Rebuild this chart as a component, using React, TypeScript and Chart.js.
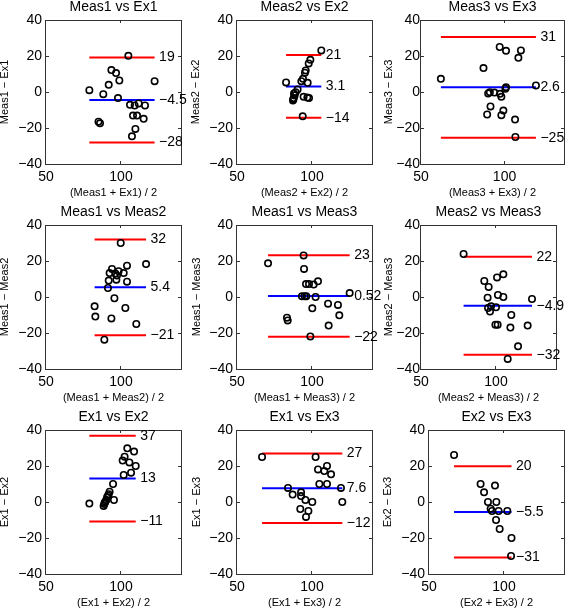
import React, { useEffect, useRef } from 'react';
import { Chart, registerables } from 'chart.js';

Chart.register(...registerables);

const FONT = '"Liberation Sans", Arial, Helvetica, sans-serif';
Chart.defaults.font.family = FONT;
Chart.defaults.color = '#000';

// ---------- text ----------
const panelTitles = ['Meas1 vs Ex1', 'Meas2 vs Ex2', 'Meas3 vs Ex3', 'Meas1 vs Meas2', 'Meas1 vs Meas3', 'Meas2 vs Meas3', 'Ex1 vs Ex2', 'Ex1 vs Ex3', 'Ex2 vs Ex3'];
const xAxisTitles = ['(Meas1 + Ex1) / 2', '(Meas2 + Ex2) / 2', '(Meas3 + Ex3) / 2', '(Meas1 + Meas2) / 2', '(Meas1 + Meas3) / 2', '(Meas2 + Meas3) / 2', '(Ex1 + Ex2) / 2', '(Ex1 + Ex3) / 2', '(Ex2 + Ex3) / 2'];
const yAxisTitles = ['Meas1 \u2212 Ex1', 'Meas2 \u2212 Ex2', 'Meas3 \u2212 Ex3', 'Meas1 \u2212 Meas2', 'Meas1 \u2212 Meas3', 'Meas2 \u2212 Meas3', 'Ex1 \u2212 Ex2', 'Ex1 \u2212 Ex3', 'Ex2 \u2212 Ex3'];

// ---------- ticks / ranges ----------
const xTickValues = [50, 100];
const yTickValues = [-40, -20, 0, 20, 40];
const xMinValues = [50, 50, 50, 50, 50, 50, 50, 50, 50];
const xMaxValues = [140, 140, 135.6, 140, 140, 140, 140, 140, 140];
const yMinValue = -40;
const yMaxValue = 40;

// ---------- data: mean of pair (x) and difference (y) ----------
const meas1Ex1Mean = [78.9, 85.0, 86.0, 88.2, 91.8, 93.6, 96.7, 98.9, 98.0, 104.9, 106.0, 109.1, 111.8, 116.0, 108.0, 110.7, 115.1, 109.6, 107.3, 122.4];
const meas1Ex1Diff = [1.0, -16.5, -17.4, -1.2, 4.0, 12.2, 10.5, 6.4, -3.4, 20.1, -7.1, -7.5, -6.4, -7.5, -13.1, -13.1, -14.9, -20.5, -24.6, 6.0];

const meas2Ex2Mean = [82.7, 90.4, 92.9, 94.0, 95.3, 95.8, 97.8, 98.9, 97.1, 96.9, 94.4, 98.0, 88.4, 87.8, 87.3, 88.0, 89.1, 93.8, 106.2, 87.6];
const meas2Ex2Diff = [5.3, 1.4, 6.0, 7.3, 10.7, 12.0, 15.9, 17.9, 5.1, -3.1, -2.7, -3.4, -1.9, -3.4, -4.7, -0.8, -0.1, -13.5, 23.1, -4.0];

const meas3Ex3Mean = [61.9, 87.4, 97.1, 100.9, 109.8, 108.3, 118.8, 100.9, 100.5, 90.2, 91.2, 93.9, 98.1, 91.6, 89.6, 98.1, 99.3, 106.3, 106.5, 97.3];
const meas3Ex3Diff = [7.3, 13.3, 25.0, 22.9, 23.1, 19.0, 3.6, 2.7, 1.8, -0.8, -0.1, -0.3, -2.7, -8.0, -12.5, -12.9, -10.3, -15.3, -25.0, -1.0];

const meas1Meas2Mean = [99.8, 116.7, 104.0, 94.0, 92.4, 98.4, 96.2, 101.8, 97.3, 96.9, 91.8, 104.0, 91.3, 95.6, 82.4, 82.9, 93.6, 102.9, 110.2, 88.9];
const meas1Meas2Diff = [30.0, 18.3, 17.4, 15.6, 13.3, 14.3, 13.0, 13.3, 11.9, 9.6, 9.1, 8.5, 5.0, -0.7, -5.2, -10.9, -11.9, -6.1, -15.0, -23.7];

const meas1Meas3Mean = [70.7, 94.4, 94.7, 96.0, 98.0, 101.1, 104.0, 93.3, 95.1, 96.2, 102.4, 100.2, 110.7, 117.3, 118.2, 125.1, 83.3, 83.8, 111.1, 98.9];
const meas1Meas3Diff = [18.7, 23.1, 15.6, 7.2, 7.2, 6.9, 8.7, 0.4, 0.4, 0.4, 0.0, -6.3, -3.7, -4.4, -10.2, 2.2, -11.5, -13.0, -15.9, -21.9];

const meas2Meas3Mean = [78.4, 92.2, 95.1, 94.4, 100.7, 104.9, 101.3, 104.9, 124.0, 94.7, 96.7, 96.0, 100.0, 99.6, 101.1, 110.2, 109.6, 121.1, 114.7, 107.8];
const meas2Meas3Diff = [23.9, 8.9, 5.6, -0.4, 10.9, 12.6, 1.1, 0.0, -1.1, -6.1, -5.2, -8.1, -5.7, -15.4, -15.4, -10.0, -17.0, -15.9, -27.4, -34.4];

const ex1Ex2Mean = [78.9, 104.2, 108.7, 102.4, 101.1, 105.6, 109.8, 106.7, 101.8, 94.7, 92.4, 91.8, 95.3, 90.2, 89.6, 88.9, 88.4, 90.7, 91.3, 89.1];
const ex1Ex2Diff = [-0.9, 29.8, 28.0, 25.2, 23.0, 22.0, 20.0, 16.3, 15.0, 10.0, 5.7, 4.3, 1.1, 1.1, 0.2, -1.1, -2.2, 2.6, 3.5, -0.4];

const ex1Ex3Mean = [66.7, 102.4, 104.0, 110.0, 108.2, 112.7, 104.9, 110.0, 119.3, 84.0, 87.1, 92.7, 92.7, 95.6, 100.2, 120.2, 92.2, 97.6, 96.0];
const ex1Ex3Diff = [25.0, 25.0, 18.1, 20.0, 17.2, 15.4, 10.0, 10.0, 7.8, 7.8, 4.1, 5.4, 3.3, 1.1, 0.0, 0.0, -3.9, -5.0, -8.3];

const ex2Ex3Mean = [66.7, 84.4, 86.7, 94.0, 89.3, 94.9, 91.1, 92.0, 96.4, 102.2, 94.7, 97.1, 105.0, 104.7];
const ex2Ex3Diff = [26.1, 10.0, 5.4, 9.1, 0.0, 0.0, -3.7, -5.0, -5.0, -5.0, -10.0, -15.0, -20.0, -30.0];

// ---------- limits of agreement ----------
const upperLimits = [19.1, 20.5, 30.6, 32.0, 23.2, 22.4, 36.8, 26.9, 19.9];
const meanDiffs = [-4.5, 3.1, 2.6, 5.4, 0.52, -4.9, 13.0, 7.6, -5.5];
const lowerLimits = [-28.1, -14.3, -25.4, -21.2, -22.1, -32.1, -10.8, -11.7, -30.9];
const upperLabels = ['19', '21', '31', '32', '23', '22', '37', '27', '20'];
const meanLabels = ['\u22124.5', '3.1', '2.6', '5.4', '0.52', '\u22124.9', '13', '7.6', '\u22125.5'];
const lowerLabels = ['\u221228', '\u221214', '\u221225', '\u221221', '\u221222', '\u221232', '\u221211', '\u221212', '\u221231'];

const meanSeries = [meas1Ex1Mean, meas2Ex2Mean, meas3Ex3Mean, meas1Meas2Mean, meas1Meas3Mean, meas2Meas3Mean, ex1Ex2Mean, ex1Ex3Mean, ex2Ex3Mean];
const diffSeries = [meas1Ex1Diff, meas2Ex2Diff, meas3Ex3Diff, meas1Meas2Diff, meas1Meas3Diff, meas2Meas3Diff, ex1Ex2Diff, ex1Ex3Diff, ex2Ex3Diff];

// ---------- layout (page pixels) ----------
const boxLefts = [46, 237, 421, 46, 237, 421, 46, 237, 429];
const boxRights = [181, 372, 564, 181, 372, 556, 181, 372, 564];
const rowTops = [20, 225, 430];
const boxHeight = 144;
const yTitleOffsets = [41, 41, 32, 41, 40, 32, 41, 40, 41];
const yTickPads = [4, 4, 1, 4, 4, 1, 4, 4, 4];
const PAD_L = 50, PAD_T = 22, PAD_R = 32, PAD_B = 44;

const fmtNum = (v: number) => (v < 0 ? '\u2212' + Math.abs(v) : String(v));

function Panel({ idx }: { idx: number }) {
  const ref = useRef<HTMLCanvasElement>(null);
  const L = boxLefts[idx];
  const R = boxRights[idx];
  const T = rowTops[Math.floor(idx / 3)];
  const cw = R - L + PAD_L + PAD_R;
  const ch = boxHeight + PAD_T + PAD_B;

  useEffect(() => {
    const xs = meanSeries[idx];
    const ys = diffSeries[idx];
    const pts = xs.map((x, i) => ({ x, y: ys[i] }));
    const xLo = Math.min(...xs);
    const xHi = Math.max(...xs);
    const seg = (v: number) => [{ x: xLo, y: v }, { x: xHi, y: v }];
    const lineDs = (v: number, color: string) => ({
      data: seg(v),
      showLine: true,
      borderColor: color,
      borderWidth: 2,
      pointRadius: 0,
      fill: false,
    });

    const decor = {
      id: 'decor',
      afterDraw(chart: any) {
        const { ctx, chartArea: a } = chart;
        const xs_ = chart.scales.x;
        const ys_ = chart.scales.y;
        ctx.save();
        ctx.strokeStyle = '#333';
        ctx.lineWidth = 1;
        ctx.strokeRect(a.left - 0.5, a.top + 0.5, a.right - a.left + 1, a.bottom - a.top);
        const tl = 3;
        ctx.beginPath();
        xs_.ticks.forEach((t: any) => {
          const px = Math.round(xs_.getPixelForValue(t.value)) - 0.5;
          ctx.moveTo(px, a.bottom); ctx.lineTo(px, a.bottom - tl);
          ctx.moveTo(px, a.top); ctx.lineTo(px, a.top + tl);
        });
        ys_.ticks.forEach((t: any) => {
          const py = Math.round(ys_.getPixelForValue(t.value)) + 0.5;
          ctx.moveTo(a.left, py); ctx.lineTo(a.left + tl, py);
          ctx.moveTo(a.right, py); ctx.lineTo(a.right - tl, py);
        });
        ctx.stroke();
        ctx.fillStyle = '#000';
        ctx.font = `14px ${FONT}`;
        ctx.textAlign = 'center';
        ctx.textBaseline = 'alphabetic';
        ctx.fillText(panelTitles[idx], (a.left + a.right) / 2, a.top - 9);
        ctx.font = `11px ${FONT}`;
        ctx.textBaseline = 'middle';
        ctx.fillText(xAxisTitles[idx], (a.left + a.right) / 2, a.bottom + 29);
        ctx.save();
        ctx.translate(a.left - yTitleOffsets[idx], (a.top + a.bottom) / 2);
        ctx.rotate(-Math.PI / 2);
        ctx.fillText(yAxisTitles[idx], 0, 0);
        ctx.restore();
        ctx.font = `14px ${FONT}`;
        ctx.textAlign = 'left';
        ctx.textBaseline = 'middle';
        const lx = xs_.getPixelForValue(xHi) + 4.5;
        ctx.fillText(upperLabels[idx], lx, ys_.getPixelForValue(upperLimits[idx]));
        ctx.fillText(meanLabels[idx], lx, ys_.getPixelForValue(meanDiffs[idx]));
        ctx.fillText(lowerLabels[idx], lx, ys_.getPixelForValue(lowerLimits[idx]));
        ctx.restore();
      },
    };

    const chart = new Chart(ref.current as HTMLCanvasElement, {
      type: 'scatter',
      data: {
        datasets: [
          {
            data: pts,
            showLine: false,
            pointRadius: 3.2,
            pointBorderWidth: 1.6,
            pointBorderColor: '#000',
            pointBackgroundColor: 'rgba(0,0,0,0)',
            borderColor: '#000',
            backgroundColor: 'rgba(0,0,0,0)',
          } as any,
          lineDs(upperLimits[idx], '#ff0000'),
          lineDs(meanDiffs[idx], '#0000ff'),
          lineDs(lowerLimits[idx], '#ff0000'),
        ],
      },
      options: {
        responsive: false,
        animation: false,
        devicePixelRatio: 1,
        events: [],
        layout: { padding: { left: 0, top: PAD_T, right: PAD_R, bottom: 0 } },
        plugins: { legend: { display: false }, tooltip: { enabled: false }, title: { display: false } },
        scales: {
          x: {
            type: 'linear',
            position: 'bottom',
            min: xMinValues[idx],
            max: xMaxValues[idx],
            grid: { display: false, drawTicks: false },
            border: { display: false },
            afterBuildTicks: (s: any) => { s.ticks = xTickValues.map((v) => ({ value: v })); },
            afterFit: (s: any) => { s.height = PAD_B; },
            ticks: { color: '#000', font: { size: 14, family: FONT }, padding: 5, maxRotation: 0, autoSkip: false, callback: (v: any) => fmtNum(Number(v)) },
          },
          y: {
            type: 'linear',
            position: 'left',
            min: yMinValue,
            max: yMaxValue,
            grid: { display: false, drawTicks: false },
            border: { display: false },
            afterBuildTicks: (s: any) => { s.ticks = yTickValues.map((v) => ({ value: v })); },
            afterFit: (s: any) => { s.width = PAD_L; },
            ticks: { color: '#000', font: { size: 14, family: FONT }, padding: yTickPads[idx], autoSkip: false, callback: (v: any) => fmtNum(Number(v)) },
          },
        },
      } as any,
      plugins: [decor],
    });
    return () => chart.destroy();
  }, [idx]);

  return (
    <canvas
      ref={ref}
      width={cw}
      height={ch}
      style={{ position: 'absolute', left: L - PAD_L, top: T - PAD_T, width: cw, height: ch, display: 'block' }}
    />
  );
}

export default function App() {
  return (
    <div style={{ position: 'fixed', left: 0, top: 0, width: 565, height: 609, background: '#fff', overflow: 'hidden' }}>
      {panelTitles.map((_, i) => (
        <Panel key={i} idx={i} />
      ))}
    </div>
  );
}
